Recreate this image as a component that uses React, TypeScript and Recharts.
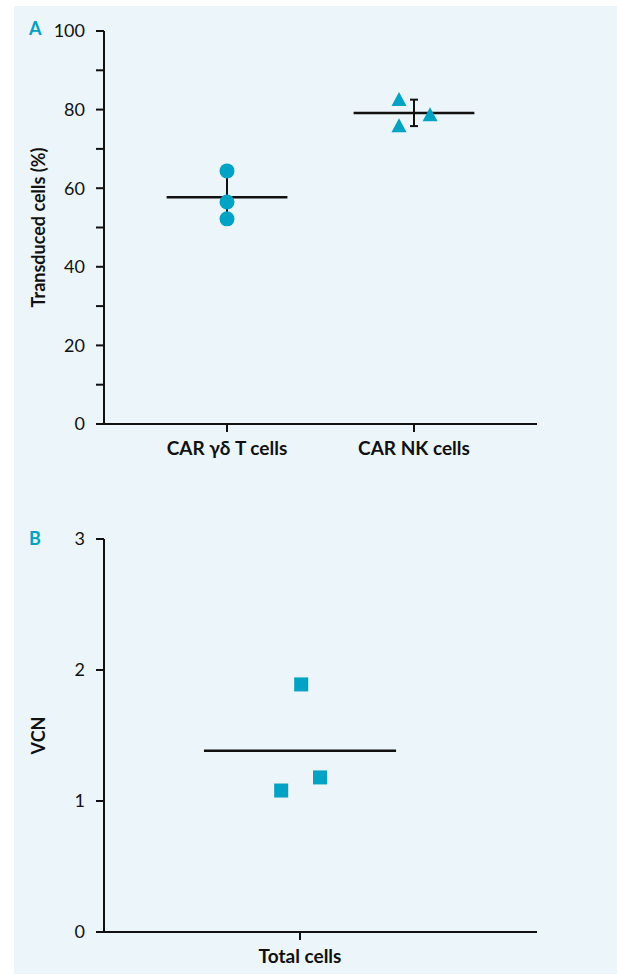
import React from 'react';
import { ScatterChart, Scatter, XAxis, YAxis, ErrorBar, ReferenceLine, Label } from 'recharts';

// ---- Panel A data ----
const categoriesA = ['CAR γδ T cells', 'CAR NK cells'];
const gdTValues = [64.4, 56.5, 52.2];
const gdTOffsets = [0, 0, 0];
const nkValues = [82.7, 78.8, 76.0];
const nkOffsets = [-0.08, 0.086, -0.08];
const yTicksA = [0, 10, 20, 30, 40, 50, 60, 70, 80, 90, 100];
const yLabelA = 'Transduced cells (%)';

// ---- Panel B data ----
const categoriesB = ['Total cells'];
const vcnValues = [1.89, 1.18, 1.08];
const vcnOffsets = [0.003, 0.051, -0.048];
const yTicksB = [0, 1, 2, 3];
const yLabelB = 'VCN';

const TEAL = '#00a3c4';
const INK = '#111111';
const BG = '#ecf5f9';
const FONT = 'Lato, "Noto Sans", sans-serif';

const mean = (a: number[]) => a.reduce((s, v) => s + v, 0) / a.length;
const sd = (a: number[]) => {
  const m = mean(a);
  return Math.sqrt(a.reduce((s, v) => s + (v - m) * (v - m), 0) / (a.length - 1));
};

const toPoints = (vals: number[], offs: number[], pos: number) =>
  vals.map((v, i) => ({ x: pos + offs[i], y: v }));

const gdTData = toPoints(gdTValues, gdTOffsets, 1);
const nkData = toPoints(nkValues, nkOffsets, 2);
const vcnData = toPoints(vcnValues, vcnOffsets, 1);
const summaryA = [
  { x: 1, y: mean(gdTValues), err: sd(gdTValues) },
  { x: 2, y: mean(nkValues), err: sd(nkValues) },
];

const CircleShape = (p: any) => <circle cx={p.cx} cy={p.cy} r={7.5} fill={TEAL} />;
const TriangleShape = (p: any) => (
  <polygon
    points={`${p.cx},${p.cy - 7} ${p.cx - 7.5},${p.cy + 7} ${p.cx + 7.5},${p.cy + 7}`}
    fill={TEAL}
  />
);
const SquareShape = (p: any) => <rect x={p.cx - 7} y={p.cy - 7} width={14} height={14} fill={TEAL} />;
const NoShape = () => <g />;

const yLabelContent = (text: string) => (props: any) => {
  const vb = props.viewBox || { x: 44, y: 31, width: 60, height: 393 };
  const x = vb.x - 6;
  const y = vb.y + vb.height / 2;
  return (
    <text
      x={x}
      y={y}
      transform={`rotate(-90, ${x}, ${y})`}
      textAnchor="middle"
      dominantBaseline="central"
      fontFamily={FONT}
      fontWeight={700}
      fontSize={18}
      fill={INK}
    >
      {text}
    </text>
  );
};

const tickStyle = { fill: INK, fontSize: 18, fontFamily: FONT };
const catTickStyle = { fill: INK, fontSize: 19, fontFamily: FONT, fontWeight: 700 };

const margin = { top: 31, right: 80, left: 44 };

function PanelA() {
  return (
    <ScatterChart width={617} height={480} margin={{ ...margin, bottom: 16 }}>
      <XAxis
        type="number"
        dataKey="x"
        domain={[0.342, 2.658]}
        ticks={[1, 2]}
        interval={0}
        tickFormatter={(v: number) => categoriesA[v - 1] ?? ''}
        height={40}
        tickSize={8}
        tickMargin={10}
        axisLine={{ stroke: INK, strokeWidth: 2 }}
        tickLine={{ stroke: INK, strokeWidth: 2 }}
        tick={catTickStyle}
      />
      <YAxis
        type="number"
        dataKey="y"
        domain={[0, 100]}
        ticks={yTicksA}
        interval={0}
        tickFormatter={(v: number) => (v % 20 === 0 ? String(v) : '')}
        width={60}
        tickSize={8}
        tickMargin={11}
        axisLine={{ stroke: INK, strokeWidth: 2 }}
        tickLine={{ stroke: INK, strokeWidth: 2 }}
        tick={tickStyle}
      >
        <Label content={yLabelContent(yLabelA)} />
      </YAxis>
      <ReferenceLine
        segment={[{ x: 1 - 0.323, y: mean(gdTValues) }, { x: 1 + 0.323, y: mean(gdTValues) }]}
        stroke={INK}
        strokeWidth={2.5}
      />
      <ReferenceLine
        segment={[{ x: 2 - 0.323, y: mean(nkValues) }, { x: 2 + 0.323, y: mean(nkValues) }]}
        stroke={INK}
        strokeWidth={2.5}
      />
      <Scatter data={summaryA} shape={NoShape} isAnimationActive={false}>
        <ErrorBar dataKey="err" direction="y" width={4} stroke={INK} strokeWidth={2} isAnimationActive={false} />
      </Scatter>
      <Scatter data={gdTData} shape={CircleShape} isAnimationActive={false} />
      <Scatter data={nkData} shape={TriangleShape} isAnimationActive={false} />
    </ScatterChart>
  );
}

function PanelB() {
  return (
    <ScatterChart width={617} height={467} margin={{ ...margin, bottom: 3 }}>
      <XAxis
        type="number"
        dataKey="x"
        domain={[0.5, 1.6045]}
        ticks={[1]}
        interval={0}
        tickFormatter={(v: number) => categoriesB[v - 1] ?? ''}
        height={40}
        tickSize={8}
        tickMargin={10}
        axisLine={{ stroke: INK, strokeWidth: 2 }}
        tickLine={{ stroke: INK, strokeWidth: 2 }}
        tick={catTickStyle}
      />
      <YAxis
        type="number"
        dataKey="y"
        domain={[0, 3]}
        ticks={yTicksB}
        interval={0}
        width={60}
        tickSize={8}
        tickMargin={11}
        axisLine={{ stroke: INK, strokeWidth: 2 }}
        tickLine={{ stroke: INK, strokeWidth: 2 }}
        tick={tickStyle}
      >
        <Label content={yLabelContent(yLabelB)} />
      </YAxis>
      <ReferenceLine
        segment={[{ x: 1 - 0.245, y: mean(vcnValues) }, { x: 1 + 0.245, y: mean(vcnValues) }]}
        stroke={INK}
        strokeWidth={2.5}
      />
      <Scatter data={vcnData} shape={SquareShape} isAnimationActive={false} />
    </ScatterChart>
  );
}

const letterStyle: React.CSSProperties = {
  position: 'absolute',
  color: TEAL,
  fontFamily: FONT,
  fontWeight: 700,
  fontSize: 18,
  lineHeight: '18px',
};

export default function App() {
  return (
    <div style={{ position: 'absolute', left: 0, top: 0, width: 617, height: 975, overflow: 'hidden', background: '#fff' }}>
      <div style={{ position: 'absolute', left: 14, top: 6, width: 603, height: 968, background: BG }} />
      <div style={{ ...letterStyle, left: 29, top: 19 }}>A</div>
      <div style={{ ...letterStyle, left: 29, top: 529 }}>B</div>
      <div style={{ position: 'absolute', left: 0, top: 0 }}>
        <PanelA />
      </div>
      <div style={{ position: 'absolute', left: 0, top: 508 }}>
        <PanelB />
      </div>
    </div>
  );
}
